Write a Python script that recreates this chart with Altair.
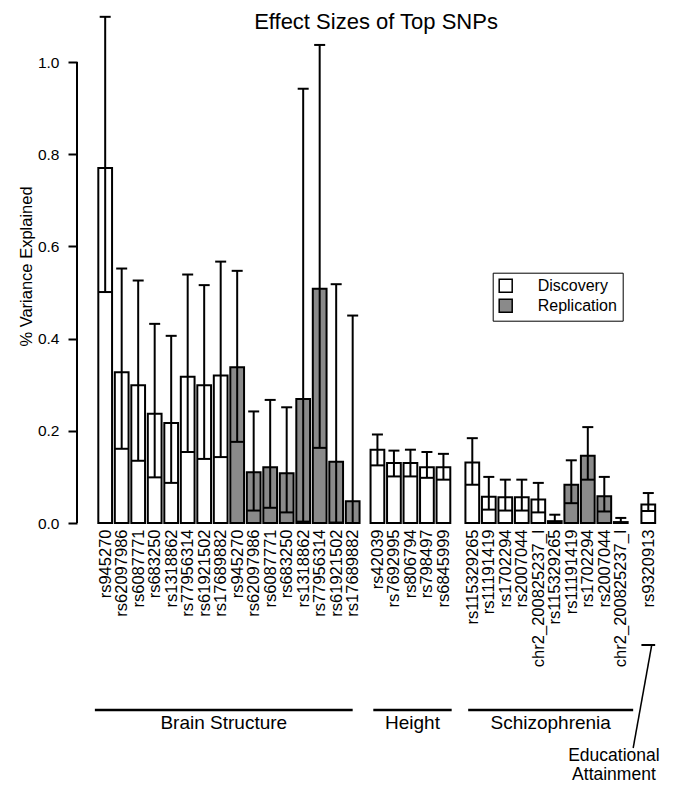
import json
import altair as alt
import pandas as pd

# ------------------------------------------------------------------ data
brain_snps = ["rs945270", "rs62097986", "rs6087771", "rs683250",
              "rs1318862", "rs77956314", "rs61921502", "rs17689882"]
brain_disc_est = [0.770, 0.327, 0.299, 0.237, 0.217, 0.317, 0.299, 0.320]
brain_disc_lo = [0.501, 0.161, 0.135, 0.099, 0.087, 0.154, 0.139, 0.143]
brain_disc_hi = [1.098, 0.552, 0.526, 0.432, 0.406, 0.539, 0.516, 0.567]
brain_rep_est = [0.338, 0.110, 0.121, 0.108, 0.269, 0.508, 0.133, 0.047]
brain_rep_lo = [0.176, 0.027, 0.033, 0.023, 0.003, 0.163, 0.001, 0.000]
brain_rep_hi = [0.547, 0.242, 0.267, 0.251, 0.942, 1.037, 0.518, 0.450]

height_snps = ["rs42039", "rs7692995", "rs806794", "rs798497", "rs6845999"]
height_disc_est = [0.159, 0.130, 0.130, 0.121, 0.121]
height_disc_lo = [0.125, 0.101, 0.101, 0.098, 0.094]
height_disc_hi = [0.192, 0.157, 0.159, 0.154, 0.150]

schiz_snps = ["rs115329265", "rs11191419", "rs1702294", "rs2007044", "chr2_200825237_I"]
schiz_disc_est = [0.131, 0.057, 0.056, 0.056, 0.051]
schiz_disc_lo = [0.083, 0.029, 0.027, 0.027, 0.023]
schiz_disc_hi = [0.184, 0.100, 0.094, 0.094, 0.087]
schiz_rep_est = [0.004, 0.083, 0.146, 0.058, 0.002]
schiz_rep_lo = [0.000, 0.043, 0.094, 0.025, 0.000]
schiz_rep_hi = [0.018, 0.136, 0.208, 0.100, 0.011]

educ_snps = ["rs9320913"]
educ_disc_est = [0.040]
educ_disc_lo = [0.026]
educ_disc_hi = [0.065]

group_names = ["Brain Structure", "Height", "Schizophrenia"]
group_line_start = [-2.5, 200, 269]     # x units
group_line_end = [185, 257, 389]
educ_label = "Educational\nAttainment"
title_text = "Effect Sizes of Top SNPs"

y_ticks = [0.0, 0.2, 0.4, 0.6, 0.8, 1.0]

# ------------------------------------------------------------------ layout
FONT = "Liberation Sans"
BAR_W = 10
PITCH = 12
GROUP_START = [0, 198, 267, 395]

series = [
    (0, brain_snps, "Discovery", brain_disc_est, brain_disc_lo, brain_disc_hi),
    (0, brain_snps, "Replication", brain_rep_est, brain_rep_lo, brain_rep_hi),
    (1, height_snps, "Discovery", height_disc_est, height_disc_lo, height_disc_hi),
    (2, schiz_snps, "Discovery", schiz_disc_est, schiz_disc_lo, schiz_disc_hi),
    (2, schiz_snps, "Replication", schiz_rep_est, schiz_rep_lo, schiz_rep_hi),
    (3, educ_snps, "Discovery", educ_disc_est, educ_disc_lo, educ_disc_hi),
]
rows = []
slot_in_group = {0: 0, 1: 0, 2: 0, 3: 0}
for g, snps, kind, est, lo, hi in series:
    for s, e, l, h in zip(snps, est, lo, hi):
        left = GROUP_START[g] + PITCH * slot_in_group[g]
        slot_in_group[g] += 1
        rows.append(dict(snp=s, type=kind, est=e, lo=l, hi=h,
                         left=left, right=left + BAR_W, center=left + BAR_W / 2))
df = pd.DataFrame(rows)

centers = [int(c) for c in df["center"]]
labels = list(df["snp"])
label_expr = f"{json.dumps(labels)}[indexof({json.dumps(centers)}, datum.value)]"

groups_df = pd.DataFrame({
    "name": group_names,
    "start": group_line_start,
    "end": group_line_end,
})
groups_df["mid"] = (groups_df["start"] + groups_df["end"]) / 2

educ_row = df[df["snp"] == "rs9320913"].copy()
educ_ann = pd.DataFrame({"xa": [402.5], "xb": [389.0], "tx": [375.0], "label": [educ_label]})

W, H = 588, 479
x_scale = alt.Scale(domain=[-15.5, 412.15], nice=False, zero=False)
y_scale = alt.Scale(domain=[0, H / 461.0], nice=False, zero=False)

base = alt.Chart(df)

bars = base.mark_rect(stroke="black", strokeWidth=2).encode(
    x=alt.X("left:Q", scale=x_scale,
            axis=alt.Axis(values=centers, tickCount=100, labelExpr=label_expr,
                          labelAngle=270, ticks=False, domain=False, grid=False,
                          labelPadding=6, labelFontSize=16.5, labelFont=FONT,
                          labelColor="black", labelOverlap=False, labelBound=False,
                          labelFlush=False, title=None)),
    x2="right:Q",
    y=alt.Y("est:Q", scale=y_scale,
            axis=alt.Axis(values=y_ticks, format=".1f", domain=False, grid=False,
                          tickSize=9, tickWidth=2, tickColor="black",
                          labelPadding=9, labelFontSize=15.5, labelFont=FONT,
                          labelColor="black",
                          title="% Variance Explained", titleFontSize=16.5,
                          titleFont=FONT, titleFontWeight="normal",
                          titleColor="black", titleX=-43, titleY=222)),
    y2=alt.datum(0),
    fill=alt.Fill("type:N",
                  scale=alt.Scale(domain=["Discovery", "Replication"],
                                  range=["white", "#8a8a8a"]),
                  legend=alt.Legend(title=None, orient="none",
                                    legendX=415.7, legendY=228.7,
                                    symbolType="square", symbolSize=169,
                                    symbolStrokeColor="black", symbolStrokeWidth=1.5,
                                    labelFontSize=16, labelFont=FONT,
                                    labelColor="black", labelOffset=24,
                                    rowPadding=0, padding=5,
                                    strokeColor="black")),
)

vline = base.mark_rule(color="black", strokeWidth=2).encode(
    x="center:Q", y="lo:Q", y2="hi:Q")
lower = base.mark_rule(color="black", strokeWidth=2).encode(
    x="left:Q", x2="right:Q", y="lo:Q")
cap = base.transform_calculate(
    capL="datum.center - 4", capR="datum.center + 4"
).mark_rule(color="black", strokeWidth=2).encode(
    x="capL:Q", x2="capR:Q", y="hi:Q")

yaxis_line = alt.Chart(pd.DataFrame({"a": [0]})).mark_rule(
    color="black", strokeWidth=2).encode(
    x=alt.value(0), y=alt.datum(0.0), y2=alt.datum(1.0))

glines = alt.Chart(groups_df).mark_rule(color="black", strokeWidth=2.5).encode(
    x="start:Q", x2="end:Q", y=alt.value(666))
gtext = alt.Chart(groups_df).mark_text(
    fontSize=19, font=FONT, baseline="middle", color="black").encode(
    x="mid:Q", y=alt.value(679), text="name:N")

educ_tick = alt.Chart(educ_row).mark_rule(color="black", strokeWidth=2).encode(
    x="left:Q", x2="right:Q", y=alt.value(601))
educ_diag = alt.Chart(educ_ann).mark_rule(color="black", strokeWidth=1.5).encode(
    x="xa:Q", x2="xb:Q", y=alt.value(601), y2=alt.value(704))
educ_text = alt.Chart(educ_ann).mark_text(
    fontSize=17.5, font=FONT, baseline="alphabetic", align="center",
    lineBreak="\n", lineHeight=18.5, color="black").encode(
    x="tx:Q", y=alt.value(717), text="label:N")

title = alt.Chart(pd.DataFrame({"t": [title_text]})).mark_text(
    fontSize=22, font=FONT, baseline="alphabetic", align="center",
    color="black").encode(
    x=alt.value(W / 2 + 5), y=alt.value(-15), text="t:N")

chart = alt.layer(
    bars, vline, lower, cap, yaxis_line, glines, gtext, educ_tick, educ_diag,
    educ_text, title
).properties(
    width=W, height=H,
    autosize=alt.AutoSizeParams(type="none"),
    padding={"left": 69, "top": 36, "right": 0, "bottom": 261},
).configure_view(stroke=None).configure_axis(grid=False)

chart.save("out.html", embed_options={"renderer": "svg", "actions": False})
